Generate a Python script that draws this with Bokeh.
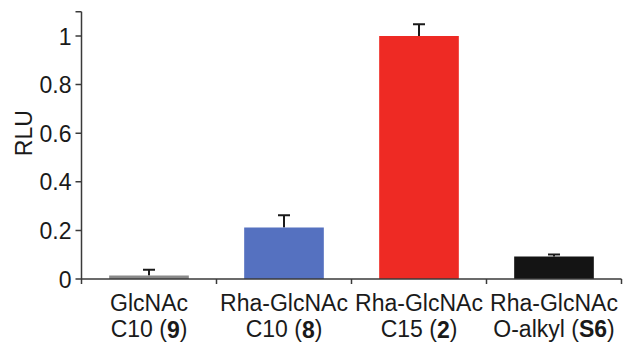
import math
from bokeh.plotting import figure
from bokeh.models import ColumnDataSource, Whisker, TeeHead, Label, Range1d
from bokeh.embed import file_html
from bokeh.resources import INLINE

# ---- data ----
line1 = ["GlcNAc", "Rha-GlcNAc", "Rha-GlcNAc", "Rha-GlcNAc"]
line2_pre = ["C10 (", "C10 (", "C15 (", "O-alkyl ("]
line2_bold = ["9", "8", "2", "S6"]
line2_post = [")", ")", ")", ")"]
values = [0.014, 0.212, 1.0, 0.093]
errors = [0.024, 0.050, 0.048, 0.008]
colors = ["#898989", "#5571C0", "#EE2A24", "#141414"]
y_ticks = [0, 0.2, 0.4, 0.6, 0.8, 1.0, 1.1]
y_tick_labels = ["0", "0.2", "0.4", "0.6", "0.8", "1", ""]
y_axis_max = 1.1
y_title = "RLU"
y_title_pos = 0.6

FONT = "Liberation Sans"
FS = 23
AX = "#3a3a3a"
TXT = "#1a1a1a"

# layout (pixels)
W, H = 626, 346
LEFT, RIGHT = 81, 621      # x of category 0 start / last category end
ZERO_Y, ONE_Y = 278.5, 35.5  # y of value 0 / value 1
n = len(values)
xppu = (RIGHT - LEFT) / n
yppu = ZERO_Y - ONE_Y

# Arial/Liberation Sans advance widths (per 1000 em)
REG = {"C": 722, "1": 556, "0": 556, "5": 556, " ": 278, "(": 333, ")": 333,
       "O": 778, "-": 333, "a": 556, "l": 222, "k": 500, "y": 500}
BOLD = {"9": 556, "8": 556, "2": 556, "S": 667, "6": 556}

def width(s, table):
    return sum(table.get(c, 556) for c in s) / 1000.0 * FS

x_centers = [i + 0.5 for i in range(n)]
src = ColumnDataSource(dict(
    x=x_centers, top=values, color=colors,
    upper=[v + e for v, e in zip(values, errors)],
))

# the frame covers the whole canvas; axes are drawn by hand so that every
# text can sit exactly where the reference has it
p = figure(width=W, height=H, output_backend="svg", toolbar_location=None,
           x_range=Range1d(-LEFT / xppu, n + (W - RIGHT) / xppu),
           y_range=Range1d(-(H - ZERO_Y) / yppu, ZERO_Y / yppu),
           min_border=0)
p.outline_line_color = None
p.grid.visible = False
p.axis.visible = False
p.background_fill_color = "white"
p.border_fill_color = "white"

p.vbar(x="x", top="top", width=0.59, bottom=0, color="color", line_color=None, source=src)

p.add_layout(Whisker(base="x", lower="top", upper="upper", source=src,
                     line_color=TXT, line_width=2,
                     upper_head=TeeHead(size=12, line_color=TXT, line_width=2),
                     lower_head=None))

# x axis line and category-boundary ticks
p.segment(x0=[0], y0=[0], x1=[n], y1=[0], line_color=AX, line_width=1.5)
p.ray(x=list(range(n + 1)), y=[0] * (n + 1), length=5, length_units="screen",
      angle=-math.pi / 2, line_color=AX, line_width=1.5)

# y axis line, ticks, tick labels
p.segment(x0=[0], y0=[0], x1=[0], y1=[y_axis_max], line_color=AX, line_width=1.5)
p.ray(x=[0] * len(y_ticks), y=y_ticks, length=6, length_units="screen",
      angle=math.pi, line_color=AX, line_width=1.5)
for t, lab in zip(y_ticks, y_tick_labels):
    if lab:
        p.add_layout(Label(x=0, y=t, x_offset=-10, text=lab, text_font=FONT,
                           text_font_size=f"{FS}px", text_color=TXT,
                           text_align="right", text_baseline="middle"))

# y title
p.add_layout(Label(x=0, y=y_title_pos, x_offset=-58, text=y_title, angle=math.pi / 2,
                   text_font=FONT, text_font_size=f"{FS}px", text_color=TXT,
                   text_align="center", text_baseline="middle"))

# category labels (two lines, number in bold)
Y1 = -24
Y2 = -50
for i in range(n):
    cx = x_centers[i]
    p.add_layout(Label(x=cx, y=0, y_offset=Y1, text=line1[i], text_font=FONT,
                       text_font_size=f"{FS}px", text_color=TXT,
                       text_align="center", text_baseline="alphabetic"))
    wa = width(line2_pre[i], REG)
    wb = width(line2_bold[i], BOLD)
    wc = width(line2_post[i], REG)
    left = -(wa + wb + wc) / 2
    parts = [(line2_pre[i], left, "normal"), (line2_bold[i], left + wa, "bold"),
             (line2_post[i], left + wa + wb, "normal")]
    for txt, off, style in parts:
        p.add_layout(Label(x=cx, y=0, x_offset=off, y_offset=Y2, text=txt,
                           text_font=FONT, text_font_size=f"{FS}px",
                           text_font_style=style, text_color=TXT,
                           text_align="left", text_baseline="alphabetic"))

open("out.html", "w").write(file_html(p, INLINE))
